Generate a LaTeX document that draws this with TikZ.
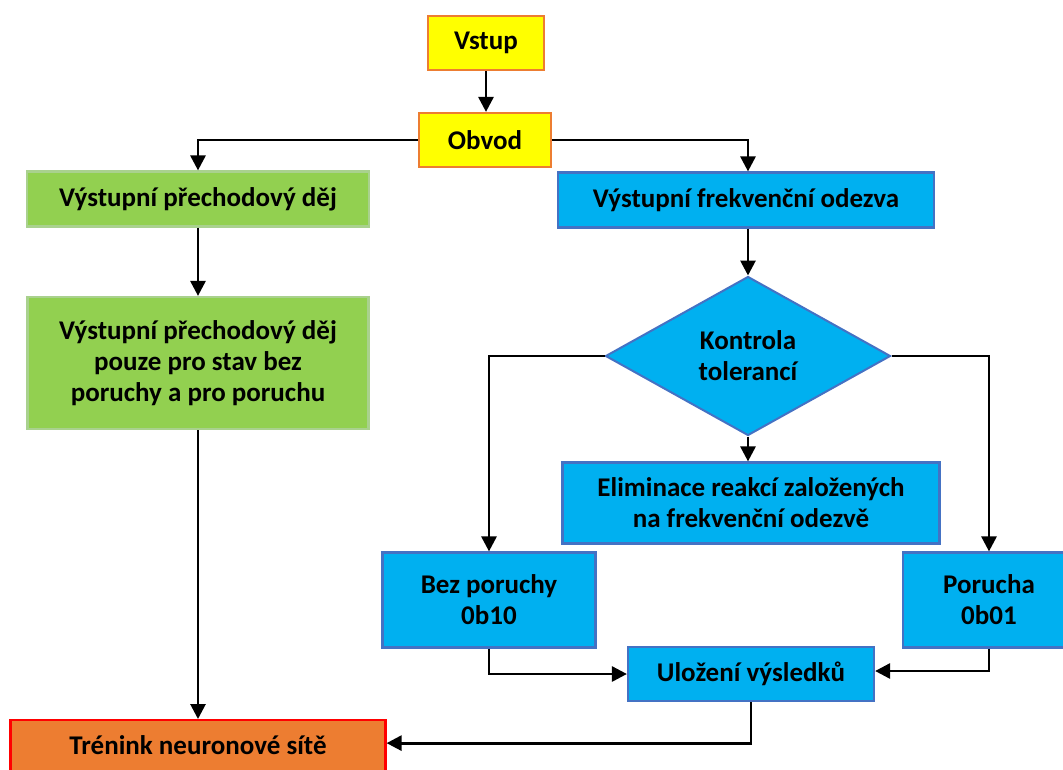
\documentclass[tikz,border=0pt]{standalone}
\usepackage{fontspec}
\setmainfont{Carlito}
\usetikzlibrary{arrows.meta,shapes.geometric}
\definecolor{yel}{HTML}{FFFF00}
\definecolor{orb}{HTML}{ED7D31}
\definecolor{grf}{HTML}{92D050}
\definecolor{grb}{HTML}{A9D18E}
\definecolor{blf}{HTML}{00B0F0}
\definecolor{blb}{HTML}{4472C4}
\definecolor{redb}{HTML}{FF0000}
\tikzset{
  box/.style={rectangle, draw, line width=2.2pt, align=center, inner sep=0pt,
    font=\fontsize{27}{31}\selectfont\bfseries},
  ybox/.style={box, fill=yel, draw=orb},
  gbox/.style={box, fill=grf, draw=grb},
  bbox/.style={box, fill=blf, draw=blb},
  tbox/.style={box, fill=orb, draw=redb},
  arr/.style={line width=2.8pt, -{Triangle[length=15pt,width=15pt]}},
  ln/.style={line width=2.8pt}
}
\begin{document}
\begin{tikzpicture}[x=1pt,y=-1pt]
\useasboundingbox (0,0) rectangle (1063,769);
\fill[white] (0,0) rectangle (1063,769);
\node[ybox, minimum width=116, minimum height=54] (vstup) at (486,43) {Vstup};
\node[ybox, minimum width=132, minimum height=54] (obvod) at (485,140) {Obvod};
\node[gbox, minimum width=342, minimum height=55] (g1) at (198,199) {Výstupní přechodový děj};
\node[gbox, minimum width=341, minimum height=132] (g2) at (198,363) {Výstupní přechodový děj\\pouze pro stav bez\\poruchy a pro poruchu};
\node[tbox, minimum width=375, minimum height=56, anchor=north] (tren) at (198,719) {};
\node[font=\fontsize{27}{31}\selectfont\bfseries] (trentxt) at (198,745) {Trénink neuronové sítě};
\node[bbox, minimum width=376, minimum height=55] (b1) at (746,200) {Výstupní frekvenční odezva};
\node[diamond, draw=blb, fill=blf, line width=2pt, aspect=1.79, inner sep=0pt,
  minimum width=285, minimum height=159, align=center,
  font=\fontsize{27}{31}\selectfont\bfseries] (dia) at (748,356) {Kontrola\\tolerancí};
\node[bbox, minimum width=377, minimum height=81] (elim) at (751,503) {Eliminace reakcí založených\\na frekvenční odezvě};
\node[bbox, minimum width=213, minimum height=95] (bez) at (489,600) {Bez poruchy\\0b10};
\node[bbox, minimum width=172, minimum height=95] (por) at (989,600) {Porucha\\0b01};
\node[bbox, minimum width=246, minimum height=54] (ulo) at (751,674) {Uložení výsledků};
\draw[arr] (vstup) -- (vstup |- obvod.north);
\draw[arr] (obvod.west) -| (g1.north);
\draw[arr] (obvod.east) -| (dia.north |- b1.north);
\draw[arr] (g1) -- (g2);
\draw[arr] (g2.south) -- (tren.north);
\draw[arr] (dia.north |- b1.south) -- (dia.north);
\draw[arr] (dia.south) -- (dia.south |- elim.north);
\draw[arr] (dia.west) -| (bez.north);
\draw[arr] (dia.east) -| (por.north);
\draw[arr] (bez.south) |- (ulo.west);
\draw[arr] (por.south) |- ([yshift=3pt]ulo.east);
\draw[arr] (ulo.south) |- ([yshift=5pt]tren.east);
\end{tikzpicture}
\end{document}
